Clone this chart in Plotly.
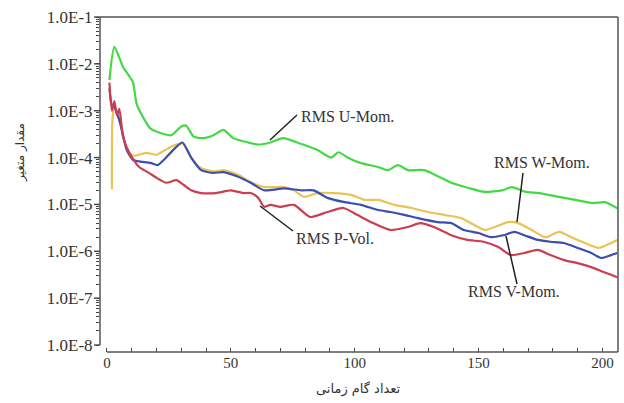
import math
import plotly.graph_objects as go

# ---------------- data ----------------
u_x = [1, 3, 6.5, 9, 10.5, 12, 14.5, 17.5, 20.5, 26, 30, 32, 35, 39, 43, 47, 51, 57, 61, 66, 71, 78, 85,
       90.5, 93.5, 97.5, 102.5, 109.5, 113.5, 117.5, 121.5, 128, 134, 139, 146, 152.5, 159.5, 163.5,
       169, 174.5, 182.5, 189, 196, 201, 206]
u_y = [4.5e-3, 2.3e-2, 8.6e-3, 5.5e-3, 4.1e-3, 1.4e-3, 7.4e-4, 4.2e-4, 3.5e-4, 3.0e-4, 4.6e-4, 4.8e-4,
       2.8e-4, 2.6e-4, 3.0e-4, 3.9e-4, 2.6e-4, 2.1e-4, 1.9e-4, 2.1e-4, 2.6e-4, 2.0e-4, 1.45e-4,
       1.0e-4, 1.3e-4, 9.8e-5, 7.6e-5, 6.3e-5, 5.4e-5, 6.9e-5, 5.4e-5, 5.4e-5, 3.9e-5, 2.9e-5,
       2.25e-5, 1.85e-5, 2.0e-5, 2.35e-5, 1.85e-5, 1.75e-5, 1.45e-5, 1.25e-5, 1.07e-5, 1.12e-5, 8.3e-6]

v_x = [1, 2, 3, 4, 5, 6.5, 9, 13, 17, 20, 24, 28, 31, 34, 38, 44, 50, 55, 58, 61, 63.5, 66, 70, 75.5,
       82, 89, 95.5, 101, 107.5, 114.5, 121.5, 126.5, 132, 139, 145.5, 152, 158, 163, 168.5, 174,
       179, 184.5, 190, 195.5, 200.5, 206]
v_y = [4e-3, 1.0e-3, 1.6e-3, 8e-4, 1.1e-3, 2.8e-4, 1.26e-4, 6.3e-5, 4.7e-5, 3.7e-5, 2.9e-5, 3.3e-5,
       2.6e-5, 2.0e-5, 1.75e-5, 1.75e-5, 2.0e-5, 1.75e-5, 1.75e-5, 1.4e-5, 8.9e-6, 9.8e-6, 8.9e-6,
       9.8e-6, 5.4e-6, 6.9e-6, 8.4e-6, 6.0e-6, 4.0e-6, 2.85e-6, 3.3e-6, 4.0e-6, 3.3e-6, 2.2e-6,
       1.75e-6, 1.6e-6, 1.23e-6, 8.3e-7, 9.2e-7, 1.07e-6, 8.3e-7, 6.5e-7, 5.6e-7, 4.6e-7, 3.6e-7, 2.8e-7]

p_x = [1, 2, 3, 4, 5.3, 8, 10.5, 13.5, 17.5, 20.5, 23, 27, 30.5, 34, 38, 43, 47, 53, 58, 63.5, 71.5,
       78.5, 83.5, 89, 95.5, 102.5, 109.5, 114.5, 120, 125.5, 133.5, 139, 144, 150, 155, 160, 164.5,
       168.5, 174, 179, 184.5, 190, 195.5, 199.5, 203.5, 206]
p_y = [3e-3, 1.3e-3, 1.2e-3, 9e-4, 5.5e-4, 1.45e-4, 8.9e-5, 8.2e-5, 7.7e-5, 6.9e-5, 9e-5, 1.5e-4,
       2.1e-4, 1.0e-4, 5.4e-5, 4.7e-5, 4.9e-5, 3.9e-5, 2.9e-5, 2.0e-5, 2.2e-5, 2.0e-5, 2.0e-5,
       1.38e-5, 1.13e-5, 9.8e-6, 7.6e-6, 6.9e-6, 6.0e-6, 5.1e-6, 4.2e-6, 4.0e-6, 2.85e-6, 2.45e-6,
       2.0e-6, 2.2e-6, 2.6e-6, 2.2e-6, 1.75e-6, 1.6e-6, 1.5e-6, 1.18e-6, 9.2e-7, 7.2e-7, 8.3e-7, 9.2e-7]

w_x = [2, 2.2, 3, 4, 5.3, 8, 10.5, 13, 16, 20, 23.5, 27.5, 30.5, 34, 38, 43, 47, 53, 58, 63.5, 71.5,
       75.5, 79.5, 85, 91.5, 98.5, 104, 109.5, 116, 123, 129.5, 136, 143, 148.5, 152.5, 156.5, 162,
       166, 171.5, 177, 182.5, 187.5, 193, 198.5, 203.5, 206]
w_y = [2.1e-5, 6e-4, 1.3e-3, 9e-4, 5.8e-4, 1.5e-4, 1.1e-4, 1.15e-4, 1.26e-4, 1.15e-4, 1.45e-4,
       1.86e-4, 2.0e-4, 1.0e-4, 6e-5, 5.1e-5, 5.4e-5, 4.3e-5, 3.0e-5, 2.35e-5, 2.35e-5, 2.0e-5,
       1.45e-5, 1.75e-5, 1.75e-5, 1.6e-5, 1.25e-5, 1.25e-5, 9.8e-6, 8.4e-6, 6.9e-6, 6.0e-6, 5.1e-6,
       3.6e-6, 2.85e-6, 3.3e-6, 4.2e-6, 4.0e-6, 2.85e-6, 2.0e-6, 2.6e-6, 2.0e-6, 1.5e-6, 1.18e-6,
       1.5e-6, 1.75e-6]

y_decades = [-8, -7, -6, -5, -4, -3, -2, -1]
y_tick_text = ["1.0E-8", "1.0E-7", "1.0E-6", "1.0E-5", "1.0E-4", "1.0E-3", "1.0E-2", "1.0E-1"]
x_tick_vals = [0, 50, 100, 150, 200]

# ---------------- layout geometry ----------------
W, H = 624, 403
L, R, T, B = 100, 6, 17, 51
PW, PH = W - L - R, H - T - B
X_RANGE = [-2.8, 206.3]
Y_RANGE = [-8.149, -1.0]


def pxx(px):
    return (px - L) / PW


def pxy(py):
    return (H - B - py) / PH


def logy_paper(v):
    return (math.log10(v) - Y_RANGE[0]) / (Y_RANGE[1] - Y_RANGE[0])


fig = go.Figure()
series = [
    (w_x, w_y, "#e8c455", "RMS W-Mom."),
    (u_x, u_y, "#45d845", "RMS U-Mom."),
    (p_x, p_y, "#3b4fae", "RMS P-Vol."),
    (v_x, v_y, "#cc3d4f", "RMS V-Mom."),
]
for xs, ys, col, name in series:
    fig.add_trace(go.Scatter(x=xs, y=ys, mode="lines", name=name,
                             line=dict(color=col, width=2.2, shape="spline", smoothing=0.6)))

# y ticks: decades labelled, intermediate digits unlabelled (short ticks)
y_vals, y_text = [], []
for d, lab in zip(y_decades, y_tick_text):
    y_vals.append(10.0 ** d)
    y_text.append(lab)
    if d < -1:
        for k in range(2, 10):
            y_vals.append(k * 10.0 ** d)
            y_text.append("")

axis_col = "#444444"
font_serif = "Liberation Serif, Times New Roman, serif"

fig.update_layout(
    width=W, height=H,
    margin=dict(l=L, r=R, t=T, b=B),
    paper_bgcolor="white", plot_bgcolor="white",
    showlegend=False,
    xaxis=dict(range=X_RANGE, showgrid=False, zeroline=False, showline=False,
               tickmode="array", tickvals=x_tick_vals, ticks="inside", ticklen=4,
               tickcolor=axis_col, tickwidth=1.4,
               tickfont=dict(family=font_serif, size=15, color="#333"),
               minor=dict(dtick=10, tick0=0, ticks="inside", ticklen=4, tickcolor=axis_col,
                          tickwidth=1.4, showgrid=False)),
    yaxis=dict(type="log", range=Y_RANGE, showgrid=False, zeroline=False, showline=False,
               tickmode="array", tickvals=y_vals, ticktext=y_text,
               ticks="outside", ticklen=3, tickcolor=axis_col, tickwidth=1.3,
               tickfont=dict(family=font_serif, size=17, color="#333")),
)

line_style = dict(color="#555555", width=1.5)
# axes / frame
fig.add_shape(type="line", xref="paper", yref="paper", x0=0, x1=0,
              y0=logy_paper(1e-8), y1=1, line=line_style)
fig.add_shape(type="line", xref="x", yref="paper", x0=0, x1=X_RANGE[1], y0=0, y1=0, line=line_style)
fig.add_shape(type="line", xref="paper", yref="paper", x0=0, x1=1, y0=1, y1=1, line=line_style)
fig.add_shape(type="line", xref="paper", yref="paper", x0=1, x1=1, y0=0, y1=1, line=line_style)
# longer major ticks at decades
for d in y_decades:
    yp = logy_paper(10.0 ** d)
    fig.add_shape(type="line", xref="paper", yref="paper", x0=-6 / PW, x1=0, y0=yp, y1=yp,
                  line=dict(color=axis_col, width=1.4))

# leader lines
leaders = [((297, 115), (270, 140)),
           ((523, 173), (517, 222)),
           ((293, 231), (260, 206)),
           ((517, 284), (506, 236))]
for (ax_, ay_), (bx_, by_) in leaders:
    fig.add_shape(type="line", xref="paper", yref="paper",
                  x0=pxx(ax_), y0=pxy(ay_), x1=pxx(bx_), y1=pxy(by_),
                  line=dict(color="#222", width=1.5))

labels = [("RMS U-Mom.", 299, 117), ("RMS W-Mom.", 492, 162),
          ("RMS P-Vol.", 294, 238), ("RMS V-Mom.", 466, 291)]
for txt, lx, ly in labels:
    fig.add_annotation(text=txt, xref="paper", yref="paper", x=pxx(lx), y=pxy(ly),
                       xanchor="left", yanchor="middle", showarrow=False,
                       font=dict(family=font_serif, size=16, color="#333"))

fig.add_annotation(text="مقدار متغیر", xref="paper", yref="paper", x=pxx(20), y=pxy(153),
                   textangle=-90, showarrow=False, xanchor="center", yanchor="middle",
                   font=dict(family="DejaVu Sans", size=12, color="#333"))
fig.add_annotation(text="تعداد گام زمانی", xref="paper", yref="paper", x=pxx(358), y=pxy(389),
                   showarrow=False, xanchor="center", yanchor="middle",
                   font=dict(family="DejaVu Sans", size=13, color="#333"))

fig.write_html("out.html")
